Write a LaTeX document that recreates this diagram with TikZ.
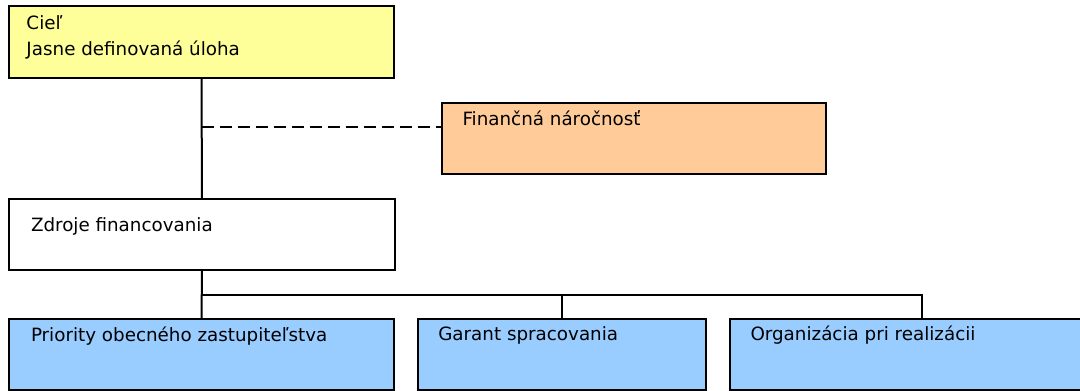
\documentclass[tikz,border=0pt]{standalone}
\usepackage{fontspec}
\setmainfont{DejaVu Sans}
\definecolor{goalyellow}{HTML}{FFFF99}
\definecolor{finorange}{HTML}{FFCC99}
\definecolor{boxblue}{HTML}{99CCFF}
\begin{document}
\begin{tikzpicture}[x=1pt,y=-1pt,
  boxnode/.style={draw=black, line width=2pt, rectangle, inner sep=0pt, outer sep=0pt, anchor=north west},
  txt/.style={inner sep=0pt, outer sep=0pt, anchor=base west, font=\fontsize{18.3}{22}\selectfont},
  conn/.style={draw=black, line width=2pt},
  dashconn/.style={draw=black, line width=2pt, dash pattern=on 12pt off 6pt}]
\useasboundingbox (0,0) rectangle (1080,391);
\clip (0,0) rectangle (1080,391);
\fill[white] (0,0) rectangle (1080,391);
% boxes
\node[boxnode, fill=goalyellow, minimum width=385pt, minimum height=72pt] (goal) at (9,6) {};
\node[boxnode, fill=finorange, minimum width=384pt, minimum height=71pt] (fin) at (442,103) {};
\node[boxnode, fill=white, minimum width=386pt, minimum height=71pt] (src) at (9,199) {};
\node[boxnode, fill=boxblue, minimum width=385pt, minimum height=71pt] (b1) at (9,319) {};
\node[boxnode, fill=boxblue, minimum width=288pt, minimum height=71pt] (b2) at (418,319) {};
\node[boxnode, fill=boxblue, minimum width=384pt, minimum height=71pt] (b3) at (730,319) {};
% texts
\node[txt] (t1) at (26.5,29.3) {Cieľ};
\node[txt] (t2) at (26.5,55) {Jasne definovaná úloha};
\node[txt] (t3) at (462.5,125) {Finančná náročnosť};
\node[txt] (t4) at (31,231.5) {Zdroje financovania};
\node[txt] (t5) at (31,341.5) {Priority obecného zastupiteľstva};
\node[txt] (t6) at (438.3,340.5) {Garant spracovania};
\node[txt] (t7) at (750.5,340.5) {Organizácia pri realizácii};
% connectors
\coordinate (dj) at (201.5,127);
\coordinate (bus) at (201.5,295);
\draw[conn] (goal.south) -- (src.north);
\draw[dashconn] (dj) -- (dj -| fin.west);
\draw[conn] (src.south) -- (b1.north);
\draw[conn] (b1.north |- bus) -| (b3.north);
\draw[conn] (b2.north |- bus) -- (b2.north);
\end{tikzpicture}
\end{document}
